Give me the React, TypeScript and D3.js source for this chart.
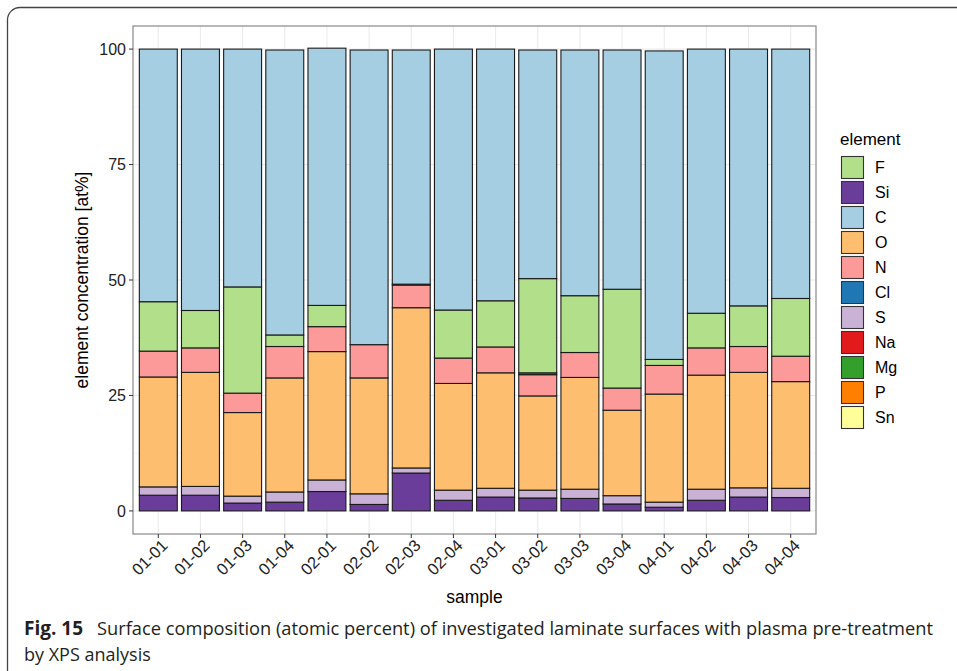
import React from "react";
import * as d3 from "d3";

// Samples (x categories)
const samples = [
  "01-01", "01-02", "01-03", "01-04",
  "02-01", "02-02", "02-03", "02-04",
  "03-01", "03-02", "03-03", "03-04",
  "04-01", "04-02", "04-03", "04-04",
];

// Element concentrations in at% per sample
const Si = [3.4, 3.4, 1.7, 1.9, 4.2, 1.4, 8.2, 2.3, 3.0, 2.8, 2.7, 1.5, 0.8, 2.3, 3.0, 2.9];
const S = [1.8, 1.9, 1.5, 2.2, 2.5, 2.3, 1.1, 2.2, 1.9, 1.7, 2.0, 1.8, 1.1, 2.4, 2.0, 2.0];
const Na = [0, 0, 0, 0, 0, 0, 0, 0, 0, 0, 0, 0, 0, 0, 0, 0];
const O = [23.8, 24.7, 18.1, 24.7, 27.8, 25.1, 34.7, 23.1, 25.0, 20.4, 24.2, 18.5, 23.4, 24.7, 25.0, 23.1];
const Cl = [0, 0, 0, 0, 0, 0, 0, 0, 0, 0, 0, 0, 0, 0, 0, 0];
const N = [5.6, 5.3, 4.2, 6.8, 5.4, 7.2, 4.9, 5.5, 5.6, 4.6, 5.4, 4.8, 6.2, 5.9, 5.6, 5.5];
const Mg = [0, 0, 0, 0, 0, 0, 0, 0, 0, 0.4, 0, 0, 0, 0, 0, 0];
const P = [0, 0, 0, 0, 0, 0, 0, 0, 0, 0, 0, 0, 0, 0, 0, 0];
const Sn = [0, 0, 0, 0, 0, 0, 0, 0, 0, 0, 0, 0, 0, 0, 0, 0];
const F = [10.7, 8.1, 23.0, 2.5, 4.6, 0, 0.2, 10.4, 10.0, 20.4, 12.3, 21.4, 1.3, 7.5, 8.8, 12.5];
const C = [54.7, 56.6, 51.5, 61.7, 55.7, 63.8, 50.7, 56.5, 54.5, 49.5, 53.2, 51.8, 66.8, 57.2, 55.6, 54.0];

// Legend order and stacking order (bottom to top)
const legendOrder = ["F", "Si", "C", "O", "N", "Cl", "S", "Na", "Mg", "P", "Sn"];
const stackOrder = ["Si", "S", "Na", "O", "Cl", "N", "Mg", "P", "Sn", "F", "C"];
const yTicks = [0, 25, 50, 75, 100];

const seriesByElement: Record<string, number[]> = { F, Si, C, O, N, Cl, S, Na, Mg, P, Sn };

const palette: Record<string, string> = {
  F: "#b2df8a",
  Si: "#6a3d9a",
  C: "#a6cee3",
  O: "#fdbf6f",
  N: "#fb9a99",
  Cl: "#1f78b4",
  S: "#cab2d6",
  Na: "#e31a1c",
  Mg: "#33a02c",
  P: "#ff7f00",
  Sn: "#ffff99",
};

const W = 957;
const H = 671;
const panel = { left: 133, right: 816, top: 26, bottom: 534 };
const chartFont = "'Liberation Sans', Arial, sans-serif";
const captionFont = "'Open Sans', 'Noto Sans', sans-serif";

export default function App() {
  const x = d3
    .scalePoint<string>()
    .domain(samples)
    .range([panel.left, panel.right])
    .padding(0.6);
  const step = x.step();
  const barW = step * 0.9;

  const y = d3.scaleLinear().domain([-5, 105]).range([panel.bottom, panel.top]);

  const rows = samples.map((s, i) => {
    const r: Record<string, number | string> = { sample: s };
    stackOrder.forEach((k) => (r[k] = seriesByElement[k][i]));
    return r;
  });
  const stacked = d3
    .stack<Record<string, number | string>>()
    .keys(stackOrder)
    .value((d, k) => d[k] as number)(rows);

  const minorTicks = d3.range(-12.5, 113, 25).filter((v) => v > -5 && v < 105);

  return (
    <svg width={W} height={H} style={{ display: "block", position: "absolute", left: 0, top: 0 }}>
      <rect x={0} y={0} width={W} height={H} fill="#ffffff" />
      {/* figure frame */}
      <path d={`M7.5,${H} V20 A12.5,12.5 0 0 1 20,7.5 H${W}`} fill="none" stroke="#444" strokeWidth={1.3} />

      {/* panel background grid */}
      <g>
        {minorTicks.map((v) => (
          <line key={"mn" + v} x1={panel.left} x2={panel.right} y1={y(v)} y2={y(v)} stroke="#f2f2f2" strokeWidth={0.6} />
        ))}
        {yTicks.map((v) => (
          <line key={"mj" + v} x1={panel.left} x2={panel.right} y1={y(v)} y2={y(v)} stroke="#ebebeb" strokeWidth={1.1} />
        ))}
        {samples.map((s) => (
          <line key={"vx" + s} x1={x(s)} x2={x(s)} y1={panel.top} y2={panel.bottom} stroke="#ebebeb" strokeWidth={1.1} />
        ))}
      </g>

      {/* stacked bars */}
      <g>
        {stacked.map((layer) =>
          layer.map((seg, i) => {
            const v = seriesByElement[layer.key][i];
            if (!v) return null;
            const x0 = (x(samples[i]) as number) - barW / 2;
            return (
              <rect
                key={layer.key + i}
                x={x0}
                y={y(seg[1])}
                width={barW}
                height={y(seg[0]) - y(seg[1])}
                fill={palette[layer.key]}
                stroke="#1a1a1a"
                strokeWidth={1.1}
              />
            );
          })
        )}
      </g>

      {/* panel border */}
      <rect
        x={panel.left}
        y={panel.top}
        width={panel.right - panel.left}
        height={panel.bottom - panel.top}
        fill="none"
        stroke="#7f7f7f"
        strokeWidth={1.1}
      />

      {/* y axis */}
      <g fontFamily={chartFont} fontSize={16} fill="#222">
        {yTicks.map((v) => (
          <g key={"yt" + v}>
            <line x1={panel.left - 4} x2={panel.left} y1={y(v)} y2={y(v)} stroke="#333" strokeWidth={1} />
            <text x={panel.left - 7} y={y(v)} dy="0.36em" textAnchor="end">
              {v}
            </text>
          </g>
        ))}
      </g>

      {/* x axis */}
      <g fontFamily={chartFont} fontSize={16.5} fill="#222">
        {samples.map((s) => (
          <g key={"xt" + s}>
            <line x1={x(s)} x2={x(s)} y1={panel.bottom} y2={panel.bottom + 4} stroke="#333" strokeWidth={1} />
            <text
              transform={`translate(${(x(s) as number) + 2},${panel.bottom + 4}) rotate(-45)`}
              textAnchor="end"
              dy="0.72em"
            >
              {s}
            </text>
          </g>
        ))}
      </g>

      {/* axis titles */}
      <text
        x={(panel.left + panel.right) / 2}
        y={603}
        textAnchor="middle"
        fontFamily={chartFont}
        fontSize={17.5}
        fill="#000"
      >
        sample
      </text>
      <text
        transform={`translate(88,${(panel.top + panel.bottom) / 2}) rotate(-90)`}
        textAnchor="middle"
        fontFamily={chartFont}
        fontSize={17.5}
        fill="#000"
      >
        element concentration [at%]
      </text>

      {/* legend */}
      <g fontFamily={chartFont} fill="#000">
        <text x={840} y={145} fontSize={17}>
          element
        </text>
        {legendOrder.map((k, i) => (
          <g key={"lg" + k} transform={`translate(841,${156 + i * 25})`}>
            <rect x={0.5} y={0.5} width={22} height={22} fill={palette[k]} stroke="#333" strokeWidth={1.1} />
            <text x={34} y={11.5} dy="0.36em" fontSize={16}>
              {k}
            </text>
          </g>
        ))}
      </g>

      {/* caption */}
      <g fontFamily={captionFont} fill="#231f20">
        <text x={24} y={635} fontSize={19} fontWeight="bold">
          Fig. 15
        </text>
        <text x={97} y={635} fontSize={18} textLength={836} lengthAdjust="spacingAndGlyphs">
          Surface composition (atomic percent) of investigated laminate surfaces with plasma pre-treatment
        </text>
        <text x={24} y={661} fontSize={18}>
          by XPS analysis
        </text>
      </g>
    </svg>
  );
}
